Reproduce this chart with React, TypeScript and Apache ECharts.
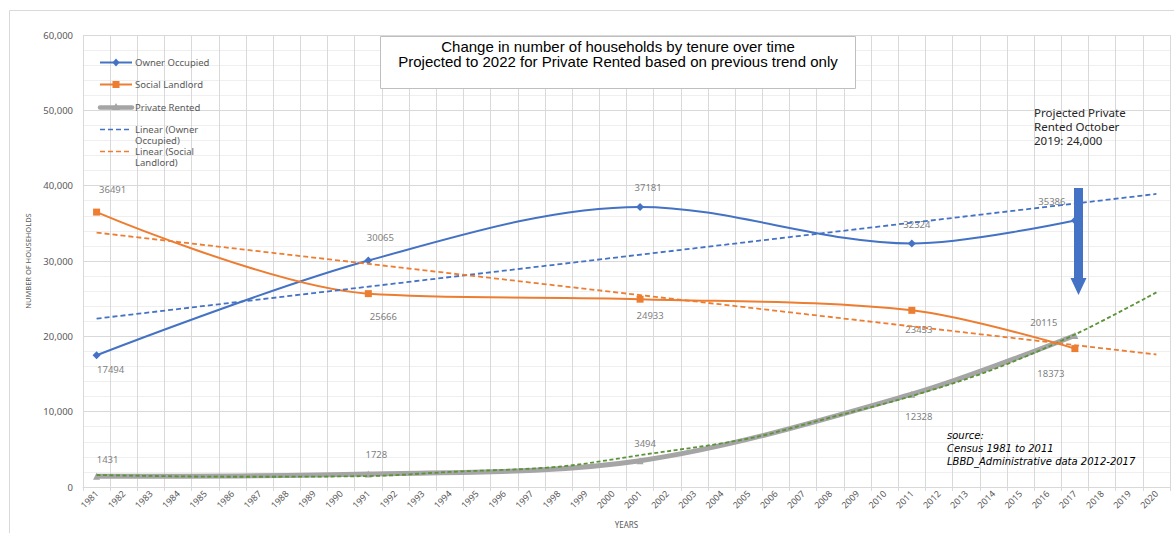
import React, { useEffect, useRef } from "react";
import * as echarts from "echarts";

// ---- Data ----
const yearLabels = [
  "1981", "1982", "1983", "1984", "1985", "1986", "1987", "1988", "1989", "1990",
  "1991", "1992", "1993", "1994", "1995", "1996", "1997", "1998", "1999", "2000",
  "2001", "2002", "2003", "2004", "2005", "2006", "2007", "2008", "2009", "2010",
  "2011", "2012", "2013", "2014", "2015", "2016", "2017", "2018", "2019", "2020",
];
const dataYears = ["1981", "1991", "2001", "2011", "2017"];
const ownerOccupied = [17494, 30065, 37181, 32324, 35386];
const socialLandlord = [36491, 25666, 24933, 23453, 18373];
const privateRented = [1431, 1728, 3494, 12328, 20115];

const linearYears = ["1981", "2020"];
const ownerLinear = [22350, 38900];
const socialLinear = [33770, 17590];

const privateTrendYears = ["1981", "1986", "1991", "1994", "1998", "2001", "2005", "2008", "2011", "2014", "2017", "2020"];
const privateTrend = [1590, 1360, 1450, 2000, 2690, 4230, 6440, 9220, 12080, 15610, 20240, 25830];

const yTicks = [0, 10000, 20000, 30000, 40000, 50000, 60000];

// label placement (offset of label centre from point, px)
const ownerLabelOffsets = [[14, 14], [12, -23], [8, -19], [5, -19], [-23, -19]];
const socialLabelOffsets = [[16, -23], [15, 23], [10, 16], [7, 19], [-24, 25]];
const privateLabelOffsets = [[11, -17], [8, -19], [5, -17], [7, 22], [-31, -13]];

const BLUE = "#4472c4";
const ORANGE = "#ed7d31";
const GREY = "#a5a5a5";
const GREEN = "#5b9337";
const TXT = "#595959";
const FONT = "'Noto Sans', 'Open Sans', sans-serif";
const SMOOTH = 0.33;

function spread(xs: string[], ys: number[], offsets?: number[][]) {
  return yearLabels.map((y) => {
    const i = xs.indexOf(y);
    if (i < 0) return null;
    if (!offsets) return ys[i];
    return { value: ys[i], label: { offset: offsets[i] } };
  });
}

export default function App() {
  const ref = useRef<HTMLDivElement>(null);
  useEffect(() => {
    if (!ref.current) return;
    const chart = echarts.init(ref.current, undefined, { renderer: "svg" });
    const dataLabel = {
      show: true,
      position: "inside",
      color: "#7f7f7f",
      fontSize: 9.5,
      fontFamily: FONT,
    };

    const graphic: any[] = [
      // outer border
      {
        type: "rect",
        z: 0,
        silent: true,
        shape: { x: 9.5, y: 10.5, width: 1170, height: 530 },
        style: { fill: "none", stroke: "#d9d9d9", lineWidth: 1 },
      },
      // title box
      {
        type: "rect",
        z: 100,
        shape: { x: 380.5, y: 36.5, width: 475, height: 52 },
        style: { fill: "#ffffff", stroke: "#bfbfbf", lineWidth: 1 },
      },
      {
        type: "text",
        z: 101,
        x: 618,
        y: 53.5,
        style: {
          text: "Change in number of households by tenure over time\nProjected to 2022 for Private Rented based on previous trend only",
          fill: "#000000",
          font: "15px 'Liberation Sans', Arial, sans-serif",
          align: "center",
          verticalAlign: "middle",
          lineHeight: 15,
        },
      },
      // legend
      { type: "line", z: 100, shape: { x1: 100, y1: 62.5, x2: 132, y2: 62.5 }, style: { stroke: BLUE, lineWidth: 2 } },
      { type: "polygon", z: 101, shape: { points: [[116, 58.5], [119.5, 62.5], [116, 66.5], [112.5, 62.5]] }, style: { fill: BLUE } },
      { type: "text", z: 100, x: 135, y: 62.5, style: { text: "Owner Occupied", fill: TXT, font: `9.5px ${FONT}`, verticalAlign: "middle" } },

      { type: "line", z: 100, shape: { x1: 100, y1: 84.5, x2: 132, y2: 84.5 }, style: { stroke: ORANGE, lineWidth: 2 } },
      { type: "rect", z: 101, shape: { x: 112.5, y: 81, width: 7, height: 7 }, style: { fill: ORANGE } },
      { type: "text", z: 100, x: 135, y: 84.5, style: { text: "Social Landlord", fill: TXT, font: `9.5px ${FONT}`, verticalAlign: "middle" } },

      { type: "line", z: 100, shape: { x1: 100, y1: 107.5, x2: 132, y2: 107.5 }, style: { stroke: GREY, lineWidth: 4.5, lineCap: "round" } },
      { type: "polygon", z: 101, shape: { points: [[116, 103], [120, 110], [112, 110]] }, style: { fill: GREY } },
      { type: "text", z: 100, x: 135, y: 107.5, style: { text: "Private Rented", fill: TXT, font: `9.5px ${FONT}`, verticalAlign: "middle" } },

      { type: "line", z: 100, shape: { x1: 100, y1: 129.5, x2: 132, y2: 129.5 }, style: { stroke: BLUE, lineWidth: 1.5, lineDash: [5, 3] } },
      { type: "text", z: 100, x: 135, y: 123.5, style: { text: "Linear (Owner\nOccupied)", fill: TXT, font: `9.5px ${FONT}`, verticalAlign: "top", lineHeight: 11 } },

      { type: "line", z: 100, shape: { x1: 100, y1: 151.5, x2: 132, y2: 151.5 }, style: { stroke: ORANGE, lineWidth: 1.5, lineDash: [5, 3] } },
      { type: "text", z: 100, x: 135, y: 145.5, style: { text: "Linear (Social\nLandlord)", fill: TXT, font: `9.5px ${FONT}`, verticalAlign: "top", lineHeight: 11 } },

      // annotation
      {
        type: "text",
        z: 100,
        x: 1034,
        y: 105,
        style: {
          text: "Projected Private\nRented October\n2019: 24,000",
          fill: "#262626",
          font: `11.5px ${FONT}`,
          verticalAlign: "top",
          lineHeight: 14,
        },
      },
      {
        type: "polygon",
        z: 100,
        shape: {
          points: [[1074, 188], [1083, 188], [1083, 278], [1086.5, 278], [1078.5, 295], [1070.5, 278], [1074, 278]],
        },
        style: { fill: BLUE },
      },
      // source
      {
        type: "text",
        z: 100,
        x: 947,
        y: 429,
        style: {
          text: "source:\nCensus 1981 to 2011\nLBBD_Administrative data 2012-2017",
          fill: "#000000",
          font: "italic 10px 'DejaVu Sans', sans-serif",
          verticalAlign: "top",
          lineHeight: 13,
        },
      },
    ];

    chart.setOption({
      animation: false,
      backgroundColor: "#ffffff",
      grid: { left: 83, right: 4, top: 35, bottom: 45, containLabel: false },
      xAxis: {
        type: "category",
        data: yearLabels,
        boundaryGap: true,
        name: "YEARS",
        nameLocation: "middle",
        nameGap: 33,
        nameTextStyle: { color: TXT, fontSize: 8, fontFamily: FONT },
        axisLine: { lineStyle: { color: "#d9d9d9" } },
        axisTick: { show: true, length: 4, lineStyle: { color: "#d9d9d9" } },
        axisLabel: {
          interval: 0,
          rotate: 45,
          margin: 5,
          color: TXT,
          fontSize: 9,
          fontFamily: FONT,
        },
        splitLine: { show: true, lineStyle: { color: "#d9d9d9" } },
      },
      yAxis: {
        type: "value",
        min: yTicks[0],
        max: yTicks[yTicks.length - 1],
        interval: 10000,
        name: "NUMBER OF HOUSEHOLDS",
        nameLocation: "middle",
        nameRotate: 90,
        nameGap: 51,
        nameTextStyle: { color: TXT, fontSize: 7.5, fontFamily: FONT },
        axisLine: { show: false },
        axisTick: { show: false },
        axisLabel: {
          color: TXT,
          fontSize: 9.5,
          fontFamily: FONT,
          margin: 10,
          formatter: (v: number) => v.toLocaleString("en-US"),
        },
        splitLine: { show: true, lineStyle: { color: "#d9d9d9" } },
        minorTick: { show: false, splitNumber: 5 },
        minorSplitLine: { show: true, lineStyle: { color: "#efefef" } },
      },
      series: [
        {
          name: "Private Rented",
          type: "line",
          data: spread(dataYears, privateRented, privateLabelOffsets),
          connectNulls: true,
          smooth: SMOOTH,
          symbol: "triangle",
          symbolSize: 7,
          itemStyle: { color: GREY },
          lineStyle: { color: GREY, width: 5 },
          label: dataLabel,
          z: 2,
        },
        {
          name: "Poly. (Private Rented)",
          type: "line",
          data: spread(privateTrendYears, privateTrend),
          connectNulls: true,
          smooth: SMOOTH,
          showSymbol: false,
          symbol: "none",
          lineStyle: { color: GREEN, width: 1.8, type: [4, 2.5] },
          z: 3,
        },
        {
          name: "Owner Occupied",
          type: "line",
          data: spread(dataYears, ownerOccupied, ownerLabelOffsets),
          connectNulls: true,
          smooth: SMOOTH,
          symbol: "diamond",
          symbolSize: 8,
          itemStyle: { color: BLUE },
          lineStyle: { color: BLUE, width: 2 },
          label: dataLabel,
          z: 4,
        },
        {
          name: "Social Landlord",
          type: "line",
          data: spread(dataYears, socialLandlord, socialLabelOffsets),
          connectNulls: true,
          smooth: SMOOTH,
          symbol: "rect",
          symbolSize: 7,
          itemStyle: { color: ORANGE },
          lineStyle: { color: ORANGE, width: 2 },
          label: dataLabel,
          z: 4,
        },
        {
          name: "Linear (Owner Occupied)",
          type: "line",
          data: spread(linearYears, ownerLinear),
          connectNulls: true,
          symbol: "none",
          lineStyle: { color: BLUE, width: 1.8, type: [5, 3] },
          z: 5,
        },
        {
          name: "Linear (Social Landlord)",
          type: "line",
          data: spread(linearYears, socialLinear),
          connectNulls: true,
          symbol: "none",
          lineStyle: { color: ORANGE, width: 1.8, type: [5, 3] },
          z: 5,
        },
      ],
      graphic,
    });
    return () => chart.dispose();
  }, []);

  return (
    <div
      ref={ref}
      style={{ position: "fixed", left: 0, top: 0, width: 1174, height: 533, background: "#fff" }}
    />
  );
}
